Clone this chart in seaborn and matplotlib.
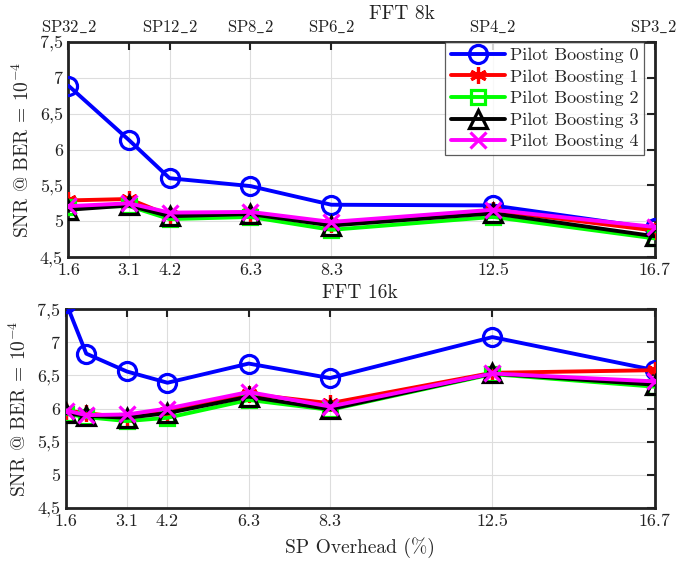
import numpy as np
import pandas as pd
import matplotlib
matplotlib.use("Agg")
import matplotlib.pyplot as plt
import seaborn as sns

# ---- data ----
x_8k = [1.5625, 3.125, 4.1667, 6.25, 8.3333, 12.5, 16.6667]
x_16k = [1.5625, 2.0833, 3.125, 4.1667, 6.25, 8.3333, 12.5, 16.6667]

pb0_8k = [6.89, 6.13, 5.60, 5.49, 5.23, 5.22, 4.90]
pb1_8k = [5.29, 5.31, 5.08, 5.11, 4.96, 5.15, 4.87]
pb2_8k = [5.20, 5.21, 5.03, 5.06, 4.88, 5.06, 4.76]
pb3_8k = [5.16, 5.22, 5.07, 5.10, 4.94, 5.11, 4.79]
pb4_8k = [5.21, 5.25, 5.12, 5.13, 4.99, 5.16, 4.92]

pb0_16k = [7.60, 6.83, 6.56, 6.39, 6.68, 6.46, 7.08, 6.58]
pb1_16k = [5.97, 5.93, 5.86, 5.95, 6.22, 6.08, 6.54, 6.58]
pb2_16k = [5.92, 5.87, 5.81, 5.86, 6.13, 5.98, 6.52, 6.33]
pb3_16k = [5.93, 5.89, 5.86, 5.93, 6.18, 5.99, 6.53, 6.36]
pb4_16k = [5.97, 5.90, 5.91, 6.00, 6.25, 6.03, 6.53, 6.41]

series_names = ["Pilot Boosting 0", "Pilot Boosting 1", "Pilot Boosting 2",
                "Pilot Boosting 3", "Pilot Boosting 4"]
xtick_vals = [1.5625, 3.125, 4.1667, 6.25, 8.3333, 12.5, 16.6667]
xtick_labels = ["1.6", "3.1", "4.2", "6.3", "8.3", "12.5", "16.7"]
top_tick_vals = [1.5625, 4.1667, 6.25, 8.3333, 12.5, 16.6667]
top_tick_labels = [r"$\mathrm{SP32\_2}$", r"$\mathrm{SP12\_2}$", r"$\mathrm{SP8\_2}$",
                   r"$\mathrm{SP6\_2}$", r"$\mathrm{SP4\_2}$", r"$\mathrm{SP3\_2}$"]
ytick_vals = [4.5, 5, 5.5, 6, 6.5, 7, 7.5]
ytick_labels = ["4,5", "5", "5,5", "6", "6,5", "7", "7,5"]

colors = ["#0000ff", "#ff0000", "#00ff00", "#000000", "#ff00ff"]
markers = ["o", (6, 2, 0), "s", "^", "x"]
msizes = [13, 12, 10, 13, 12]

sns.set_style("white")
plt.rcParams["font.family"] = ["serif"]
plt.rcParams["font.serif"] = ["cmr10", "DejaVu Serif"]
plt.rcParams["mathtext.fontset"] = "cm"
plt.rcParams["axes.unicode_minus"] = False

fig = plt.figure(figsize=(6.78, 5.65), dpi=100)
ax1 = fig.add_axes([0.101, 0.545, 0.8647, 0.3807])
ax2 = fig.add_axes([0.0973, 0.1014, 0.8684, 0.3511])

def draw(ax, xs, ys_list):
    for name, ys, c, m, ms in zip(series_names, ys_list, colors, markers, msizes):
        df = pd.DataFrame({"x": xs, "y": ys})
        sns.lineplot(data=df, x="x", y="y", ax=ax, color=c, marker=m,
                     markersize=ms, markerfacecolor="none", markeredgecolor=c,
                     markeredgewidth=2.3, linewidth=2.8, legend=False, zorder=3)
    ax.set_xlim(1.5625, 16.6667)
    ax.set_ylim(4.5, 7.5)
    ax.set_xticks(xtick_vals)
    ax.set_xticklabels(xtick_labels, fontsize=13)
    ax.set_yticks(ytick_vals)
    ax.set_yticklabels(ytick_labels, fontsize=13)
    ax.set_xlabel("")
    ax.set_ylabel("SNR @ BER = $10^{-4}$", fontsize=14, labelpad=5)
    ax.grid(True, color="#dddddd", linewidth=0.8)
    ax.set_axisbelow(True)
    for s in ax.spines.values():
        s.set_linewidth(2.0)
        s.set_color("#222222")
    ax.tick_params(direction="in", length=6, width=1.5, top=True, right=True,
                   colors="#222222", labelcolor="#222222", pad=4)

draw(ax1, x_8k, [pb0_8k, pb1_8k, pb2_8k, pb3_8k, pb4_8k])
draw(ax2, x_16k, [pb0_16k, pb1_16k, pb2_16k, pb3_16k, pb4_16k])

# top secondary axis labels
sec = ax1.secondary_xaxis("top")
sec.set_xticks(top_tick_vals)
sec.set_xticklabels(top_tick_labels, fontsize=12)
sec.tick_params(length=0, pad=5, labelcolor="#222222")
for s in sec.spines.values():
    s.set_visible(False)
last = sec.get_xticklabels()[-1]
last.set_horizontalalignment("right")
last.set_x(last.get_position()[0])
import matplotlib.transforms as mtransforms
last.set_transform(last.get_transform() + mtransforms.ScaledTranslation(22 / 100, 0, fig.dpi_scale_trans))

ax2.set_xlabel("SP Overhead (%)", fontsize=14, labelpad=6)

handles = [plt.Line2D([], [], color=c, marker=m, markersize=ms, markerfacecolor="none",
                      markeredgecolor=c, markeredgewidth=2.3, linewidth=2.8)
           for c, m, ms in zip(colors, markers, msizes)]
leg = ax1.legend(handles, series_names, loc="upper right", bbox_to_anchor=(0.982, 1.0),
                 fontsize=13, frameon=True, fancybox=False, edgecolor="#333333",
                 handlelength=3.0, borderaxespad=0.0, labelspacing=0.33,
                 borderpad=0.3, handletextpad=0.3)
leg.get_frame().set_linewidth(0.9)

fig.text(402 / 678, 1 - 14 / 565, "FFT 8k", ha="center", va="center", fontsize=14, color="#222222")
fig.text(360 / 678, 1 - 293 / 565, "FFT 16k", ha="center", va="center", fontsize=14, color="#222222")

fig.savefig("out.png", dpi=100)
